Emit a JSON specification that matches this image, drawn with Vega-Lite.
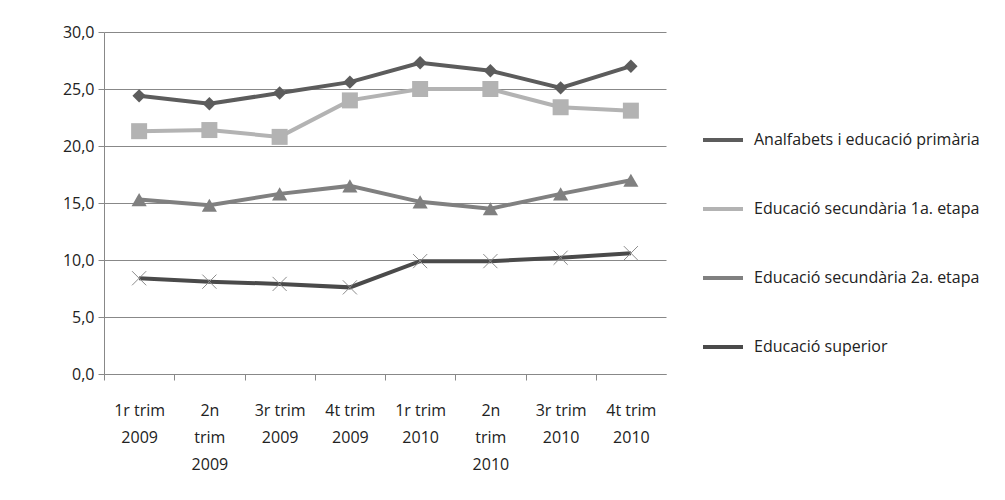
{
  "$schema": "https://vega.github.io/schema/vega-lite/v6.json",
  "width": 562,
  "height": 342,
  "padding": {"left": 62, "top": 24, "right": 0, "bottom": 10},
  "background": "white",
  "config": {
    "view": {"stroke": null},
    "font": "Open Sans",
    "style": {"guide-label": {"lineHeight": 27}},
    "axis": {"labelFont": "Open Sans", "labelFontSize": 16, "labelColor": "#222222", "domainColor": "#888888", "tickColor": "#888888", "gridColor": "#888888", "title": null}
  },
  "data": {"values": [
    {"trim": "1r trim 2009", "serie": "Analfabets i educació primària", "valor": 24.4},
    {"trim": "2n trim 2009", "serie": "Analfabets i educació primària", "valor": 23.7},
    {"trim": "3r trim 2009", "serie": "Analfabets i educació primària", "valor": 24.65},
    {"trim": "4t trim 2009", "serie": "Analfabets i educació primària", "valor": 25.6},
    {"trim": "1r trim 2010", "serie": "Analfabets i educació primària", "valor": 27.3},
    {"trim": "2n trim 2010", "serie": "Analfabets i educació primària", "valor": 26.6},
    {"trim": "3r trim 2010", "serie": "Analfabets i educació primària", "valor": 25.1},
    {"trim": "4t trim 2010", "serie": "Analfabets i educació primària", "valor": 27.0},
    {"trim": "1r trim 2009", "serie": "Educació secundària 1a. etapa", "valor": 21.3},
    {"trim": "2n trim 2009", "serie": "Educació secundària 1a. etapa", "valor": 21.4},
    {"trim": "3r trim 2009", "serie": "Educació secundària 1a. etapa", "valor": 20.8},
    {"trim": "4t trim 2009", "serie": "Educació secundària 1a. etapa", "valor": 24.0},
    {"trim": "1r trim 2010", "serie": "Educació secundària 1a. etapa", "valor": 25.0},
    {"trim": "2n trim 2010", "serie": "Educació secundària 1a. etapa", "valor": 25.0},
    {"trim": "3r trim 2010", "serie": "Educació secundària 1a. etapa", "valor": 23.4},
    {"trim": "4t trim 2010", "serie": "Educació secundària 1a. etapa", "valor": 23.1},
    {"trim": "1r trim 2009", "serie": "Educació secundària 2a. etapa", "valor": 15.3},
    {"trim": "2n trim 2009", "serie": "Educació secundària 2a. etapa", "valor": 14.8},
    {"trim": "3r trim 2009", "serie": "Educació secundària 2a. etapa", "valor": 15.8},
    {"trim": "4t trim 2009", "serie": "Educació secundària 2a. etapa", "valor": 16.5},
    {"trim": "1r trim 2010", "serie": "Educació secundària 2a. etapa", "valor": 15.1},
    {"trim": "2n trim 2010", "serie": "Educació secundària 2a. etapa", "valor": 14.5},
    {"trim": "3r trim 2010", "serie": "Educació secundària 2a. etapa", "valor": 15.8},
    {"trim": "4t trim 2010", "serie": "Educació secundària 2a. etapa", "valor": 17.0},
    {"trim": "1r trim 2009", "serie": "Educació superior", "valor": 8.4},
    {"trim": "2n trim 2009", "serie": "Educació superior", "valor": 8.1},
    {"trim": "3r trim 2009", "serie": "Educació superior", "valor": 7.9},
    {"trim": "4t trim 2009", "serie": "Educació superior", "valor": 7.6},
    {"trim": "1r trim 2010", "serie": "Educació superior", "valor": 9.9},
    {"trim": "2n trim 2010", "serie": "Educació superior", "valor": 9.9},
    {"trim": "3r trim 2010", "serie": "Educació superior", "valor": 10.2},
    {"trim": "4t trim 2010", "serie": "Educació superior", "valor": 10.6}
  ]},
  "encoding": {
    "x": {"field": "trim", "type": "ordinal", "sort": null,
      "scale": {"type": "band", "paddingInner": 0, "paddingOuter": 0},
      "axis": {"labelAngle": 0, "tickSize": 6, "tickOffset": -35.125, "labelOffset": 35.125, "labelPadding": 22, "labelLineHeight": 27, "grid": false,
        "labelExpr": "indexof(datum.value,'2n')==0 ? ['2n','trim',slice(datum.value,8)] : [slice(datum.value,0,7), slice(datum.value,8)]"}},
    "y": {"field": "valor", "type": "quantitative",
      "scale": {"domain": [0, 30], "nice": false},
      "axis": {"values": [0, 5, 10, 15, 20, 25, 30], "tickSize": 6, "labelPadding": 4,
        "labelExpr": "replace(format(datum.value,'.1f'),'.',',')"}}
  },
  "layer": [
    {
      "mark": {"type": "line", "strokeWidth": 4},
      "encoding": {
        "color": {"field": "serie", "type": "nominal",
          "scale": {"domain": ["Analfabets i educació primària", "Educació secundària 1a. etapa", "Educació secundària 2a. etapa", "Educació superior"],
            "range": ["#5c5c5c", "#b3b3b3", "#808080", "#4a4a4a"]},
          "legend": {"title": null, "orient": "none", "legendX": 597, "legendY": 86,
            "symbolType": "stroke", "symbolSize": 1600, "symbolStrokeWidth": 4,
            "labelFont": "Open Sans", "labelFontSize": 16, "labelColor": "#222222",
            "labelOffset": 9, "rowPadding": 39, "labelLimit": 320}}
      }
    },
    {
      "transform": [{"filter": "datum.serie == 'Analfabets i educació primària'"}],
      "mark": {"type": "point", "shape": "diamond", "filled": true, "size": 180, "color": "#5c5c5c", "opacity": 1}
    },
    {
      "transform": [{"filter": "datum.serie == 'Educació secundària 1a. etapa'"}],
      "mark": {"type": "point", "shape": "square", "filled": true, "size": 256, "color": "#b3b3b3", "opacity": 1}
    },
    {
      "transform": [{"filter": "datum.serie == 'Educació secundària 2a. etapa'"}],
      "mark": {"type": "point", "shape": "triangle-up", "filled": true, "size": 230, "color": "#808080", "opacity": 1}
    },
    {
      "transform": [{"filter": "datum.serie == 'Educació superior'"}],
      "mark": {"type": "point", "shape": "M -1 -1 L 1 1 M -1 1 L 1 -1", "filled": false, "size": 200, "stroke": "#8c8c8c", "strokeWidth": 1, "opacity": 1}
    }
  ]
}
